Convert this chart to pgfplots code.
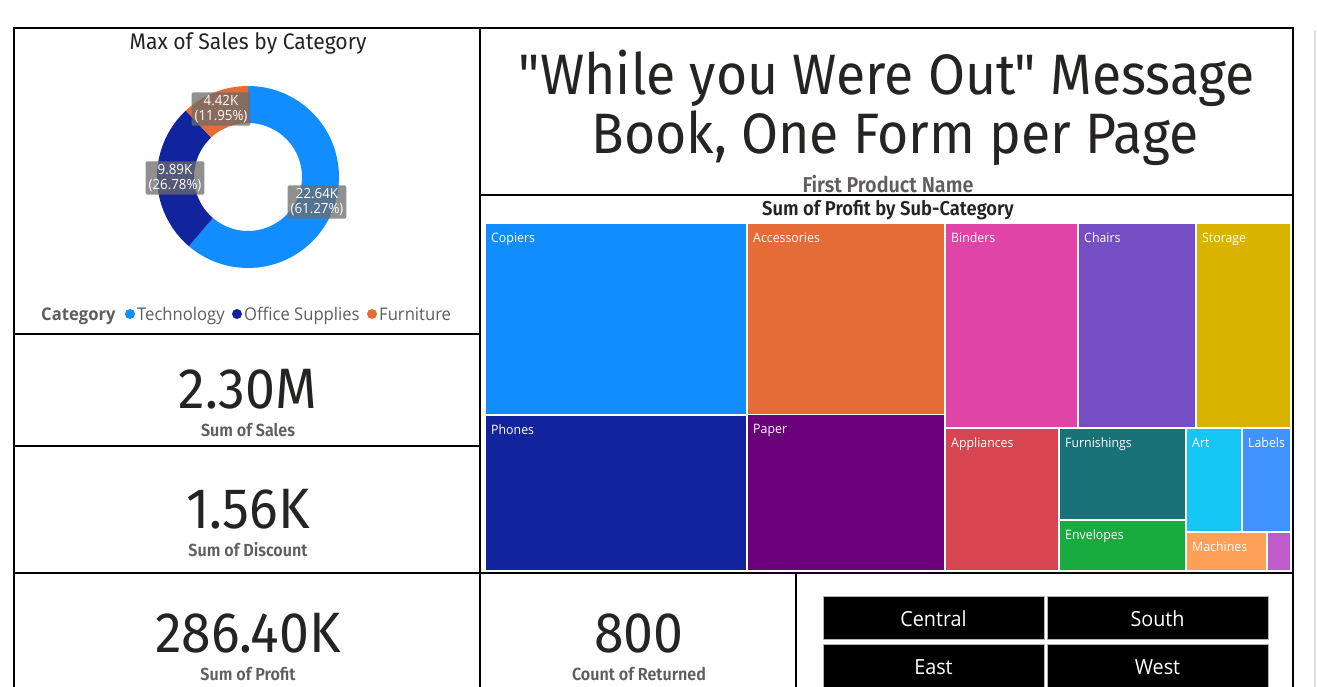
\documentclass[border=0pt]{standalone}
\usepackage{pgfplots}
\pgfplotsset{compat=1.18}
\usepackage{fontspec}
\setmainfont{Open Sans}
\newfontfamily\din[FakeStretch=0.94]{Fira Sans}
\IfFontExistsTF{Fira Sans SemiBold}
  {\newfontfamily\dinb[FakeStretch=0.92]{Fira Sans SemiBold}}
  {\newfontfamily\dinb[FakeStretch=0.94]{Fira Sans Medium}}
\newfontfamily\seg[FakeStretch=0.95]{Open Sans}
\definecolor{txt}{HTML}{252423}
\definecolor{sub}{HTML}{605E5C}
\definecolor{cTech}{HTML}{118DFF}
\definecolor{cOff}{HTML}{12239E}
\definecolor{cFur}{HTML}{E66C37}
\definecolor{cCop}{HTML}{118DFF}
\definecolor{cPho}{HTML}{12239E}
\definecolor{cAcc}{HTML}{E66C37}
\definecolor{cPap}{HTML}{6B007B}
\definecolor{cBin}{HTML}{E044A7}
\definecolor{cCha}{HTML}{744EC2}
\definecolor{cSto}{HTML}{D9B300}
\definecolor{cApp}{HTML}{D64550}
\definecolor{cFrn}{HTML}{197278}
\definecolor{cEnv}{HTML}{1AAB40}
\definecolor{cArt}{HTML}{15C6F4}
\definecolor{cLab}{HTML}{4092FF}
\definecolor{cMac}{HTML}{FFA058}
\definecolor{cFas}{HTML}{BE5DC9}
\newcommand{\fs}[1]{\fontsize{#1}{#1}\selectfont}
% treemap tile: colour, x1, y1, x2, y2, label
\newcommand{\tile}[6]{%
  \addplot[fill=#1, draw=none, mark=none, forget plot] coordinates {(#2,#3) (#4,#3) (#4,#5) (#2,#5)} -- cycle;
  \node[anchor=base west, text=white, inner sep=0pt] at (axis cs:#2+5,#3+18) {\seg\fs{13}#6};
}
% donut segment: start angle, end angle, colour
\newcommand{\donutseg}[3]{%
  \fill[#3] (axis cs:248,177) ++(#1:91pt) arc[start angle=#1, end angle=#2, radius=91pt]
     -- ++(#2+180:37pt) arc[start angle=#2, end angle=#1, radius=54pt] -- cycle;
}
\newcommand{\dlabel}[4]{%
  \node[fill=gray!85!black, fill opacity=0.75, text opacity=1, rounded corners=2pt,
        text=white, align=center, inner xsep=3pt, inner ysep=3pt, font=\seg\fontsize{14}{15}\selectfont]
    at (axis cs:#1,#2) {#3\\(#4\%)};
}
\newcommand{\slicer}[3]{%
  \filldraw[fill=black, draw=gray!60, line width=1pt] (axis cs:#1,#2) rectangle (axis cs:#1+221,#2+43);
  \node[text=white] at (axis cs:#1+110.5,#2+23) {\seg\fs{20.8}#3};
}
% Donut values (Max of Sales by Category)
\def\vT{22.64}\def\vO{9.89}\def\vF{4.42}
\begin{document}
\begin{tikzpicture}
\pgfmathsetmacro{\tot}{\vT+\vO+\vF}
\pgfmathsetmacro{\aB}{90-360*\vT/\tot}
\pgfmathsetmacro{\aC}{\aB-360*\vO/\tot}
\begin{axis}[scale only axis, width=1317pt, height=687pt,
  xmin=0, xmax=1317, ymin=0, ymax=687, y dir=reverse,
  hide axis, clip=true]
\fill[white] (axis cs:0,0) rectangle (axis cs:1317,687);
% ---------- donut ----------
\donutseg{90}{\aB}{cTech}
\donutseg{\aB}{\aC}{cOff}
\donutseg{\aC}{-270}{cFur}
\dlabel{317}{202}{22.64K}{61.27}
\dlabel{175}{178}{9.89K}{26.78}
\dlabel{221}{109}{4.42K}{11.95}
\node[text=txt] at (axis cs:248,43) {\din\fs{22.5}Max of Sales by Category};
% legend
\node[anchor=base west, text=sub, inner sep=0pt] at (axis cs:41,320) {\seg\bfseries\fs{17.5}Category};
\fill[cTech] (axis cs:130,314) circle (5pt);
\node[anchor=base west, text=sub, inner sep=0pt] at (axis cs:137,320) {\seg\fs{17.5}Technology};
\fill[cOff] (axis cs:237,314) circle (5pt);
\node[anchor=base west, text=sub, inner sep=0pt] at (axis cs:244,320) {\seg\fs{17.5}Office Supplies};
\fill[cFur] (axis cs:372,314) circle (5pt);
\node[anchor=base west, text=sub, inner sep=0pt] at (axis cs:379,320) {\seg\fs{17.5}Furniture};
% ---------- KPI cards ----------
\node[text=txt] at (axis cs:248,389) {\din\fs{57}2.30M};
\node[text=sub] at (axis cs:248,430) {\dinb\fs{17.5}Sum of Sales};
\node[text=txt] at (axis cs:248,509) {\din\fs{57}1.56K};
\node[text=sub] at (axis cs:248,550) {\dinb\fs{17.5}Sum of Discount};
\node[text=txt] at (axis cs:248,633) {\din\fs{57}286.40K};
\node[text=sub] at (axis cs:248,674) {\dinb\fs{17.5}Sum of Profit};
\node[text=txt] at (axis cs:639,633) {\din\fs{57}800};
\node[text=sub] at (axis cs:639,674) {\dinb\fs{17.5}Count of Returned};
% ---------- title card ----------
\node[text=txt] at (axis cs:887,78) {\din\fs{57}"While you Were Out" Message};
\node[text=txt] at (axis cs:895,138) {\din\fs{57}Book, One Form per Page};
\node[text=sub] at (axis cs:888,184) {\dinb\fs{21.5}First Product Name};
% ---------- treemap ----------
\node[text=txt] at (axis cs:888,210) {\dinb\fs{20}Sum of Profit by Sub-Category};
\tile{cCop}{486}{224}{746}{414}{Copiers}
\tile{cPho}{486}{416}{746}{570}{Phones}
\tile{cAcc}{748}{224}{944}{414}{Accessories}
\tile{cPap}{748}{415}{944}{570}{Paper}
\tile{cBin}{946}{224}{1077}{427}{Binders}
\tile{cCha}{1079}{224}{1195}{427}{Chairs}
\tile{cSto}{1197}{224}{1290}{427}{Storage}
\tile{cApp}{946}{429}{1058}{570}{Appliances}
\tile{cFrn}{1060}{429}{1185}{519}{Furnishings}
\tile{cEnv}{1060}{521}{1185}{570}{Envelopes}
\tile{cArt}{1187}{429}{1241}{531}{Art}
\tile{cLab}{1243}{429}{1290}{531}{Labels}
\tile{cMac}{1187}{533}{1266}{570}{Machines}
\tile{cFas}{1268}{533}{1290}{570}{}
% ---------- slicer ----------
\slicer{823}{596}{Central}
\slicer{1047}{596}{South}
\slicer{823}{644}{East}
\slicer{1047}{644}{West}
% ---------- frame ----------
\draw[black, line width=1.5pt] (axis cs:14,700) -- (axis cs:14,28) -- (axis cs:1293,28) -- (axis cs:1293,700);
\draw[black, line width=2pt] (axis cs:480,28) -- (axis cs:480,700);
\draw[black, line width=2pt] (axis cs:14,334) -- (axis cs:480,334);
\draw[black, line width=2pt] (axis cs:14,446) -- (axis cs:480,446);
\draw[black, line width=2pt] (axis cs:14,573) -- (axis cs:1293,573);
\draw[black, line width=2pt] (axis cs:480,195) -- (axis cs:1293,195);
\draw[black, line width=2pt] (axis cs:796,573) -- (axis cs:796,700);
\draw[gray!25, line width=1.5pt] (axis cs:1315,30) -- (axis cs:1315,700);
\end{axis}
\end{tikzpicture}
\end{document}
